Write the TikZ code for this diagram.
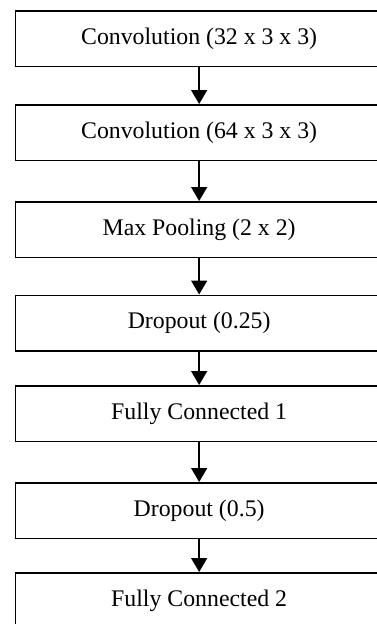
\documentclass[tikz,border=0pt]{standalone}
\usepackage{fontspec}
\setmainfont{Liberation Serif}
\usetikzlibrary{arrows.meta}
\begin{document}
\begin{tikzpicture}[x=1pt,y=-1pt,
  layer/.style={draw, line width=1.8pt, minimum width=367.5pt, minimum height=55.5pt,
    inner sep=0pt, anchor=north west, font=\fontsize{23.8}{28}\selectfont},
  flow/.style={-{Triangle[width=16pt,length=14pt]}, line width=1.5pt}]
\clip (0,0) rectangle (377,624);
\fill[white] (0,0) rectangle (377,624);
\node[layer] (b1) at (14.5,10)  {Convolution (32 x 3 x 3)};
\node[layer] (b2) at (14.5,104) {Convolution (64 x 3 x 3)};
\node[layer] (b3) at (14.5,201) {Max Pooling (2 x 2)};
\node[layer] (b4) at (14.5,294.5) {Dropout (0.25)};
\node[layer] (b5) at (14.5,385) {Fully Connected 1};
\node[layer] (b6) at (14.5,482) {Dropout (0.5)};
\node[layer] (b7) at (14.5,572) {Fully Connected 2};
\draw[flow] (b1) -- (b2);
\draw[flow] (b2) -- (b3);
\draw[flow] (b3) -- (b4);
\draw[flow] (b4) -- (b5);
\draw[flow] (b5) -- (b6);
\draw[flow] (b6) -- (b7);
\end{tikzpicture}
\end{document}
